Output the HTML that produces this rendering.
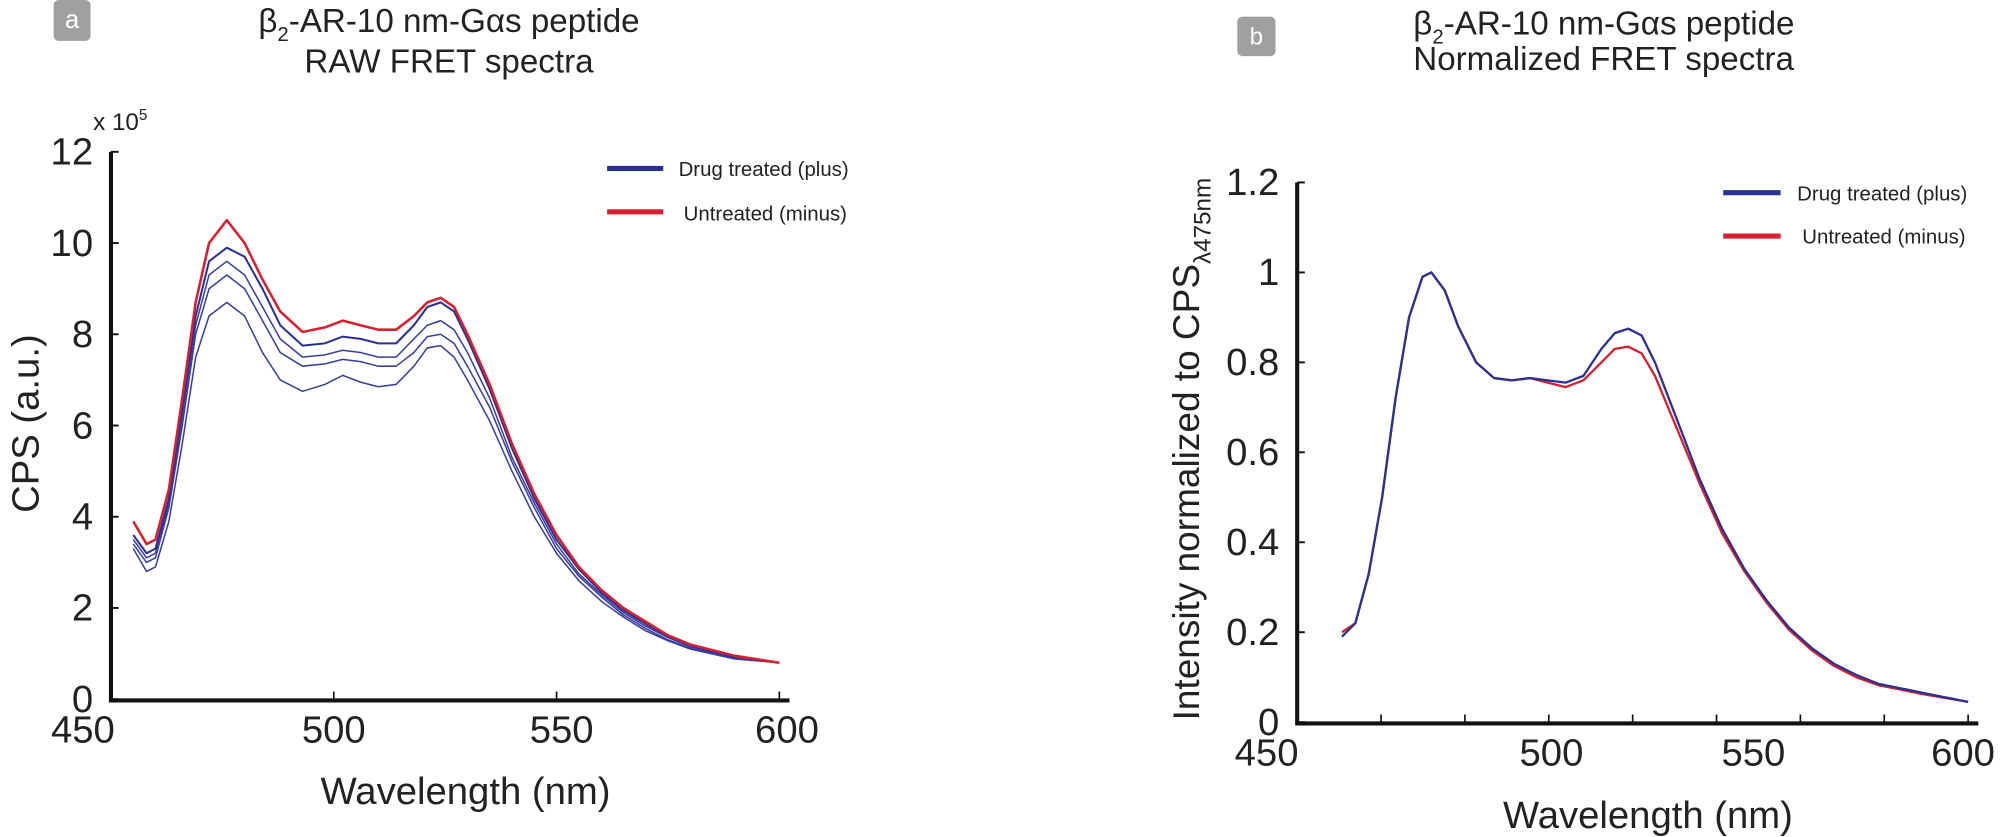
<!DOCTYPE html>
<html><head><meta charset="utf-8"><style>
body{margin:0;background:#fff;width:2000px;height:837px;overflow:hidden}
svg{display:block}
text{font-family:"Liberation Sans",sans-serif;fill:#222}
</style></head><body>
<svg id="fig" width="2000" height="837" viewBox="0 0 1568 656" preserveAspectRatio="none">
 <g>
  <rect x="42" y="0" width="29" height="32" rx="4" fill="#a0a0a0"/>
  <text x="56.5" y="22" font-size="20" text-anchor="middle" style="fill:#fff">a</text>
  <text x="352" y="25" font-size="26" text-anchor="middle">β<tspan font-size="16" dy="7">2</tspan><tspan dy="-7">-AR-10 nm-Gαs peptide</tspan></text>
  <text x="352" y="57" font-size="26" text-anchor="middle">RAW FRET spectra</text>
 </g>
 <g>
  <rect x="970" y="13" width="30" height="31" rx="4" fill="#a0a0a0"/>
  <text x="985" y="35" font-size="19" text-anchor="middle" style="fill:#fff">b</text>
  <text x="1108" y="27" font-size="26">β<tspan font-size="16" dy="7">2</tspan><tspan dy="-7">-AR-10 nm-Gαs peptide</tspan></text>
  <text x="1108" y="55" font-size="26">Normalized FRET spectra</text>
 </g>
 <g id="chartA"></g>
 <g id="chartB"></g>
</svg>
<script>
const NS="http://www.w3.org/2000/svg";
// Panel a data
const wavesA=[455,458,460,463,466,469,472,476,480,484,488,493,498,502,506,510,514,518,521,524,527,530,535,540,545,550,555,560,565,570,575,580,590,600];
const rawRed=[3.9,3.4,3.5,4.6,6.6,8.7,10.0,10.5,10.0,9.2,8.5,8.05,8.15,8.3,8.2,8.1,8.1,8.4,8.7,8.8,8.6,8.0,6.9,5.6,4.5,3.6,2.9,2.4,2.0,1.7,1.4,1.2,0.95,0.8];
const rawBlue1=[3.6,3.2,3.3,4.4,6.4,8.4,9.6,9.9,9.7,9.0,8.2,7.75,7.8,7.95,7.9,7.8,7.8,8.2,8.6,8.7,8.5,7.9,6.8,5.5,4.4,3.5,2.85,2.35,1.95,1.65,1.38,1.18,0.93,0.8];
const rawBlue2=[3.5,3.1,3.2,4.3,6.2,8.2,9.3,9.6,9.3,8.6,7.9,7.5,7.55,7.65,7.6,7.5,7.5,7.9,8.2,8.3,8.1,7.6,6.6,5.3,4.3,3.4,2.75,2.3,1.9,1.6,1.35,1.15,0.92,0.8];
const rawBlue3=[3.4,3.0,3.1,4.2,6.0,8.0,9.0,9.3,9.0,8.3,7.6,7.3,7.35,7.45,7.4,7.3,7.3,7.6,7.95,8.0,7.8,7.3,6.4,5.2,4.2,3.3,2.7,2.25,1.85,1.55,1.3,1.12,0.9,0.8];
const rawBlue4=[3.3,2.8,2.9,3.9,5.6,7.5,8.4,8.7,8.4,7.6,7.0,6.75,6.9,7.1,6.95,6.85,6.9,7.3,7.7,7.75,7.5,7.0,6.1,5.0,4.0,3.2,2.6,2.15,1.8,1.5,1.28,1.1,0.88,0.8];
const yTicksA=[0,2,4,6,8,10,12];
const xTicks=[450,500,550,600];
// Panel b data
const wavesB=[460,463,466,469,472,475,478,480,483,486,490,494,498,502,506,510,514,518,521,524,527,530,535,540,545,550,555,560,565,570,575,580,590,600];
const normBlue=[0.19,0.22,0.33,0.5,0.72,0.9,0.99,1.0,0.96,0.88,0.8,0.765,0.76,0.765,0.76,0.755,0.77,0.83,0.865,0.875,0.86,0.8,0.67,0.54,0.43,0.34,0.27,0.21,0.165,0.13,0.105,0.085,0.065,0.045];
const normRed=[0.2,0.22,0.33,0.5,0.72,0.9,0.99,1.0,0.96,0.88,0.8,0.765,0.76,0.765,0.755,0.745,0.76,0.8,0.83,0.835,0.82,0.77,0.65,0.53,0.42,0.335,0.265,0.205,0.16,0.125,0.1,0.082,0.062,0.045];
const yTicksB=[0,0.2,0.4,0.6,0.8,1,1.2];

function el(tag,attrs,parent){const e=document.createElementNS(NS,tag);for(const k in attrs)e.setAttribute(k,attrs[k]);parent.appendChild(e);return e;}

function chart(g,cfg){
  const sx=v=>cfg.x0+(v-450)/150*(cfg.x1-cfg.x0);
  const sy=v=>cfg.y0-(v-0)/cfg.ymax*(cfg.y0-cfg.y1);
  const ax=el('path',{d:`M${cfg.x0},${cfg.y1} V${cfg.y0+1} H${cfg.x1+8}`,stroke:'#111','stroke-width':3.2,fill:'none'},g);
  
  
  cfg.yt.forEach(t=>{
    const tk=el('line',{x1:cfg.x0,x2:cfg.x0+6,y1:sy(t),y2:sy(t),stroke:'#111','stroke-width':1.5},g);
    
    
    const lb=el('text',{x:cfg.x0-14,y:sy(t)+10,'font-size':30,'text-anchor':'end'},g);
    lb.textContent=String(t);
    
    
  });
  for(let i=1;i<=cfg.nMinor;i++){
    const x=cfg.x0+i*(cfg.x1-cfg.x0)/cfg.nMinor;
    const tk=el('line',{x1:x,x2:x,y1:cfg.y0,y2:cfg.y0-6,stroke:'#111','stroke-width':1.3},g);
    
    
  }
  xTicks.forEach((t,i)=>{
    const lb=el('text',{x:sx(t)+cfg.xlo[i],y:cfg.y0+34,'font-size':30,'text-anchor':'middle'},g);
    lb.textContent=String(t);
    
    
  });
  cfg.series.forEach(s=>{
    const d=s.v.map((v,i)=>(i?'L':'M')+sx(cfg.w[i]).toFixed(1)+','+sy(v).toFixed(1)).join(' ');
    const p=el('path',{d:d,stroke:s.c,'stroke-width':s.sw,fill:'none','stroke-linejoin':'round'},g);
    
    
  });
}
const gA=document.getElementById('chartA'),gB=document.getElementById('chartB');
chart(gA,{x0:87,x1:611,y0:548,y1:119,ymax:12,yt:yTicksA,nMinor:3,xlo:[-22,0,4,6],w:wavesA,series:[
 {v:rawBlue4,c:'#3a3f9e',sw:1.2,n:'drug-treated-line-4'},
 {v:rawBlue3,c:'#3a3f9e',sw:1.2,n:'drug-treated-line-3'},
 {v:rawBlue2,c:'#3a3f9e',sw:1.2,n:'drug-treated-line-2'},
 {v:rawBlue1,c:'#2b3192',sw:1.6,n:'drug-treated-line-1'},
 {v:rawRed,c:'#d62030',sw:2,n:'untreated-line'}]});
chart(gB,{x0:1017,x1:1543,y0:566,y1:143,ymax:1.2,yt:yTicksB,nMinor:8,xlo:[-24,24,7,-4],w:wavesB,series:[
 {v:normRed,c:'#d62030',sw:1.8,n:'untreated-normalized-line'},
 {v:normBlue,c:'#2b3192',sw:1.8,n:'drug-treated-normalized-line'}]});
</script>
<svg style="position:absolute;left:0;top:0" width="2000" height="837" viewBox="0 0 1568 656" preserveAspectRatio="none">
 <text x="73" y="102" font-size="19">x 10<tspan font-size="12" dy="-8">5</tspan></text>
 <text transform="translate(30,332) rotate(-90)" font-size="30" text-anchor="middle">CPS (a.u.)</text>
 <text x="365" y="630" font-size="30" text-anchor="middle">Wavelength (nm)</text>
 <text x="1292" y="649" font-size="30" text-anchor="middle">Wavelength (nm)</text>
 <text transform="translate(940,352) rotate(-90)" font-size="29" text-anchor="middle">Intensity normalized to CPS<tspan font-size="19" dy="9">λ475nm</tspan></text>
 <g>
  <line x1="476" x2="520" y1="132" y2="132" stroke="#2b3192" stroke-width="4"/>
  <text x="532" y="138" font-size="16">Drug treated (plus)</text>
  <line x1="476" x2="520" y1="166" y2="166" stroke="#d62030" stroke-width="4"/>
  <text x="536" y="173" font-size="16">Untreated (minus)</text>
 </g>
 <g>
  <line x1="1351" x2="1396" y1="151" y2="151" stroke="#2b3192" stroke-width="4"/>
  <text x="1409" y="157" font-size="16">Drug treated (plus)</text>
  <line x1="1351" x2="1396" y1="185" y2="185" stroke="#d62030" stroke-width="4"/>
  <text x="1413" y="191" font-size="16">Untreated (minus)</text>
 </g>
</svg>
</body></html>
